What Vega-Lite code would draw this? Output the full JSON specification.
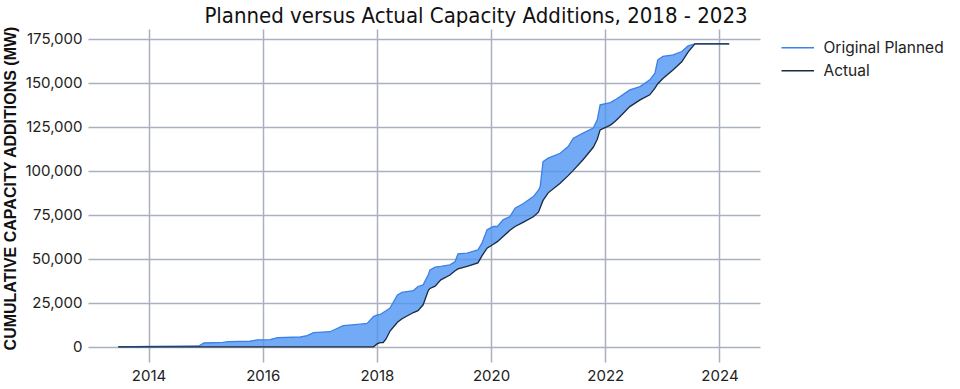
{
  "$schema": "https://vega.github.io/schema/vega-lite/v6.json",
  "autosize": "none",
  "width": 672,
  "height": 333,
  "padding": {"left": 88, "top": 29, "right": 200, "bottom": 27},
  "background": "white",
  "title": {
    "text": "Planned versus Actual Capacity Additions, 2018 - 2023",
    "font": "Liberation Sans Narrow, DejaVu Sans Condensed, sans-serif",
    "fontSize": 22,
    "fontWeight": "normal",
    "color": "#111111",
    "anchor": "middle",
    "frame": "group",
    "dx": 52,
    "offset": -2
  },
  "config": {
    "view": {"stroke": null},
    "axis": {
      "labelFont": "Inter",
      "labelFontSize": 15,
      "labelColor": "#222222",
      "gridColor": "#aab1be",
      "gridWidth": 1.5,
      "domain": false,
      "ticks": false
    },
    "legend": {
      "labelFont": "Inter",
      "labelFontSize": 15.5,
      "labelColor": "#222222"
    }
  },
  "data": {
    "values": [
      {"year": 2013.47, "Original Planned": 0, "Actual": 0},
      {"year": 2014.0, "Original Planned": 200, "Actual": 0},
      {"year": 2014.5, "Original Planned": 400, "Actual": 0},
      {"year": 2014.88, "Original Planned": 500, "Actual": 0},
      {"year": 2014.97, "Original Planned": 2200, "Actual": 0},
      {"year": 2015.3, "Original Planned": 2500, "Actual": 0},
      {"year": 2015.4, "Original Planned": 3000, "Actual": 0},
      {"year": 2015.78, "Original Planned": 3200, "Actual": 0},
      {"year": 2015.91, "Original Planned": 4000, "Actual": 0},
      {"year": 2016.13, "Original Planned": 4100, "Actual": 0},
      {"year": 2016.26, "Original Planned": 5300, "Actual": 0},
      {"year": 2016.66, "Original Planned": 5600, "Actual": 0},
      {"year": 2016.78, "Original Planned": 6400, "Actual": 0},
      {"year": 2016.89, "Original Planned": 8100, "Actual": 0},
      {"year": 2017.18, "Original Planned": 8600, "Actual": 0},
      {"year": 2017.41, "Original Planned": 12100, "Actual": 0},
      {"year": 2017.71, "Original Planned": 12900, "Actual": 0},
      {"year": 2017.83, "Original Planned": 13300, "Actual": 0},
      {"year": 2017.94, "Original Planned": 17200, "Actual": 0},
      {"year": 2018.01, "Original Planned": 18200, "Actual": 1800},
      {"year": 2018.06, "Original Planned": 18400, "Actual": 2400},
      {"year": 2018.11, "Original Planned": 19500, "Actual": 2400},
      {"year": 2018.16, "Original Planned": 20500, "Actual": 4500},
      {"year": 2018.23, "Original Planned": 22000, "Actual": 9000},
      {"year": 2018.36, "Original Planned": 29500, "Actual": 14000},
      {"year": 2018.44, "Original Planned": 30900, "Actual": 16000},
      {"year": 2018.64, "Original Planned": 32000, "Actual": 19500},
      {"year": 2018.72, "Original Planned": 34300, "Actual": 20600},
      {"year": 2018.81, "Original Planned": 35200, "Actual": 23900},
      {"year": 2018.9, "Original Planned": 41000, "Actual": 32000},
      {"year": 2018.93, "Original Planned": 43750, "Actual": 33200},
      {"year": 2019.02, "Original Planned": 45300, "Actual": 34500},
      {"year": 2019.12, "Original Planned": 45700, "Actual": 38100},
      {"year": 2019.28, "Original Planned": 46600, "Actual": 40800},
      {"year": 2019.37, "Original Planned": 48500, "Actual": 43200},
      {"year": 2019.42, "Original Planned": 52800, "Actual": 44300},
      {"year": 2019.58, "Original Planned": 53200, "Actual": 45800},
      {"year": 2019.77, "Original Planned": 55100, "Actual": 47700},
      {"year": 2019.84, "Original Planned": 58900, "Actual": 51700},
      {"year": 2019.93, "Original Planned": 66500, "Actual": 56100},
      {"year": 2020.04, "Original Planned": 68400, "Actual": 58300},
      {"year": 2020.11, "Original Planned": 68400, "Actual": 59800},
      {"year": 2020.21, "Original Planned": 72200, "Actual": 62700},
      {"year": 2020.33, "Original Planned": 74000, "Actual": 66200},
      {"year": 2020.42, "Original Planned": 78800, "Actual": 68400},
      {"year": 2020.56, "Original Planned": 81300, "Actual": 70700},
      {"year": 2020.74, "Original Planned": 85400, "Actual": 73900},
      {"year": 2020.83, "Original Planned": 89000, "Actual": 76500},
      {"year": 2020.86, "Original Planned": 91100, "Actual": 79000},
      {"year": 2020.91, "Original Planned": 105300, "Actual": 83200},
      {"year": 2021.0, "Original Planned": 107200, "Actual": 87500},
      {"year": 2021.21, "Original Planned": 110000, "Actual": 93000},
      {"year": 2021.35, "Original Planned": 113800, "Actual": 97300},
      {"year": 2021.44, "Original Planned": 118600, "Actual": 100300},
      {"year": 2021.61, "Original Planned": 121400, "Actual": 106300},
      {"year": 2021.79, "Original Planned": 124300, "Actual": 113400},
      {"year": 2021.86, "Original Planned": 129000, "Actual": 118000},
      {"year": 2021.91, "Original Planned": 137500, "Actual": 123300},
      {"year": 2022.09, "Original Planned": 138800, "Actual": 126000},
      {"year": 2022.17, "Original Planned": 140300, "Actual": 128000},
      {"year": 2022.26, "Original Planned": 142200, "Actual": 130900},
      {"year": 2022.43, "Original Planned": 146000, "Actual": 136500},
      {"year": 2022.61, "Original Planned": 147900, "Actual": 140300},
      {"year": 2022.78, "Original Planned": 151700, "Actual": 143200},
      {"year": 2022.87, "Original Planned": 155500, "Actual": 147000},
      {"year": 2022.92, "Original Planned": 163100, "Actual": 149500},
      {"year": 2023.01, "Original Planned": 165000, "Actual": 152500},
      {"year": 2023.19, "Original Planned": 165900, "Actual": 157500},
      {"year": 2023.34, "Original Planned": 167800, "Actual": 162000},
      {"year": 2023.45, "Original Planned": 171000, "Actual": 167500},
      {"year": 2023.57, "Original Planned": 172200, "Actual": 172200},
      {"year": 2024.17, "Original Planned": 172200, "Actual": 172200}
    ]
  },
  "encoding": {
    "x": {
      "field": "year",
      "type": "quantitative",
      "scale": {"domain": [2012.94, 2024.71], "nice": false, "zero": false},
      "axis": {
        "title": null,
        "values": [2014, 2016, 2018, 2020, 2022, 2024],
        "format": "d",
        "labelPadding": 6
      }
    }
  },
  "layer": [
    {
      "mark": {"type": "area", "color": "#4f95f2", "opacity": 0.8},
      "encoding": {
        "y": {
          "field": "Original Planned",
          "type": "quantitative",
          "scale": {"domain": [-8600, 180600], "nice": false, "zero": false},
          "axis": {
            "title": "CUMULATIVE CAPACITY ADDITIONS (MW)",
            "titleFont": "Liberation Sans",
            "titleFontSize": 16,
            "titleFontWeight": "bold",
            "titleColor": "#111111",
            "titlePadding": 7,
            "titleY": 159,
            "values": [0, 25000, 50000, 75000, 100000, 125000, 150000, 175000],
            "format": ",d",
            "labelPadding": 6
          }
        },
        "y2": {"field": "Actual"}
      }
    },
    {
      "transform": [{"fold": ["Original Planned", "Actual"], "as": ["series", "value"]}],
      "mark": {"type": "line", "strokeWidth": 1.3},
      "encoding": {
        "y": {"field": "value", "type": "quantitative"},
        "color": {
          "field": "series",
          "type": "nominal",
          "scale": {"domain": ["Original Planned", "Actual"], "range": ["#3a82e8", "#1b2a3e"]},
          "legend": {
            "title": null,
            "orient": "none",
            "legendX": 702,
            "legendY": 11,
            "symbolType": "M-2.5,0H2.5",
            "symbolSize": 169,
            "symbolStrokeWidth": 1.5,
            "symbolFillColor": "transparent",
            "labelOffset": 18,
            "rowPadding": 6,
            "padding": 0
          }
        }
      }
    }
  ]
}
